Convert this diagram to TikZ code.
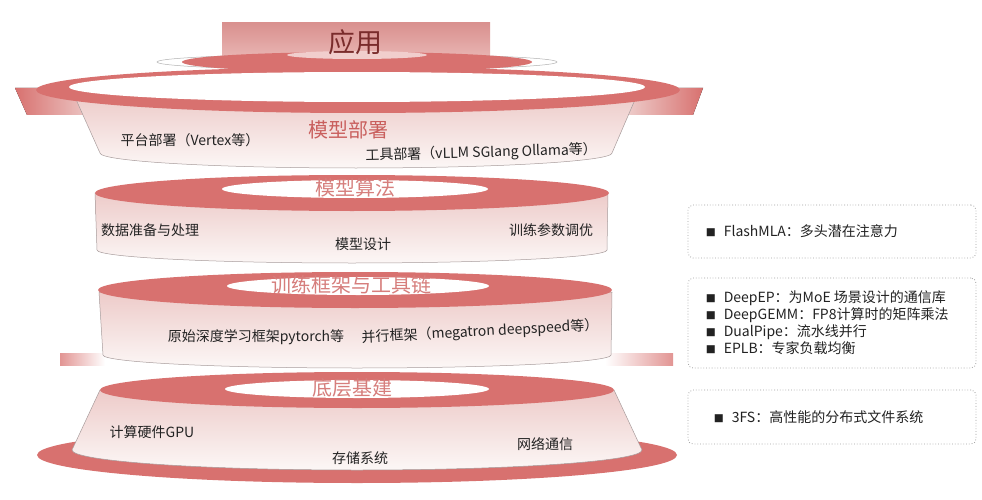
\documentclass[tikz,border=0pt]{standalone}
\usepackage{fontspec}
\setmainfont{Noto Sans CJK SC}
\usepackage{tikz}
\usetikzlibrary{positioning}
\definecolor{ringred}{HTML}{D8716F}
\definecolor{sidepink}{HTML}{EDCBC9}
\definecolor{sidewhite}{HTML}{FCF7F6}
\definecolor{sidegray}{HTML}{A89C9C}
\definecolor{appTop}{HTML}{D9918F}
\definecolor{appBottom}{HTML}{EBB9B7}
\definecolor{appText}{HTML}{7A2C2C}
\definecolor{deployRed}{HTML}{C95F5D}
\definecolor{titlePink}{HTML}{D67E7C}
\definecolor{boxgray}{HTML}{A0A0A0}
\definecolor{labelblack}{HTML}{222222}
\newcommand{\bulletfont}{\fontsize{10}{10}\selectfont}
\tikzstyle{ring} = [fill=ringred]
\tikzstyle{hole} = [fill=white]
\tikzstyle{sidewall} = [draw=sidegray, line width=0.5pt, top color=sidepink, bottom color=sidewhite]
\tikzstyle{layertitle} = [font=\fontsize{20}{22}\selectfont, text=titlePink, inner sep=0pt]
\tikzstyle{layertext} = [font=\fontsize{14}{16}\selectfont, text=labelblack, inner sep=0pt]
\tikzstyle{infobox} = [draw=boxgray, dotted, line width=0.8pt, rounded corners=5pt, minimum width=288pt, inner sep=0pt]
\tikzstyle{boxtext} = [font=\fontsize{14}{17}\selectfont, text=labelblack, align=left, inner sep=0pt]

\begin{document}
\begin{tikzpicture}[x=1pt, y=-1pt]
    \fill[white] (0,0) rectangle (982,500);
    \useasboundingbox (0,0) rectangle (982,500);

    % model deployment (wide bowl)
    \fill[left color=ringred, right color=sidepink] (15,88) -- (92,88) -- (92,115) -- (27,115) -- cycle;
    \fill[left color=sidepink, right color=ringred] (628,88) -- (703,88) -- (693,115) -- (628,115) -- cycle;
    \draw[sidewall] (74,95) -- (100,153) arc[start angle=180, end angle=0, x radius=256, y radius=15] -- (637,95) -- cycle;
    \fill[ring] (358,90) ellipse [x radius=322, y radius=23];
    \fill[hole] (357,87) ellipse [x radius=288, y radius=15];

    % application
    \shade[top color=appTop, bottom color=appBottom] (222,23) rectangle (490,62);
    \draw[gray!60, fill=white, line width=0.5pt] (357,62) ellipse [x radius=200, y radius=8];
    \fill[ring] (357,62) ellipse [x radius=175, y radius=10];
    \fill[appBottom!70!white] (357,55) ellipse [x radius=70, y radius=4];
    \node (appTitle) at (355,42) [font=\fontsize{27}{29}\selectfont, text=appText, inner sep=0pt] {应用};

    \node (deployTitle) at (348,130) [layertitle, text=deployRed] {模型部署};
    \node (platformDeploy) at (190,140) [layertext] {平台部署（Vertex等）};
    \node (toolDeploy) at (597,150) [layertext, anchor=east, rotate=1.5] {工具部署（vLLM SGlang Ollama等）};

    % model algorithm
    \draw[sidewall] (95,193) -- (97,250) arc[start angle=180, end angle=0, x radius=255, y radius=13] -- (608,193) -- cycle;
    \fill[ring] (352,193) ellipse [x radius=257, y radius=18];
    \fill[hole] (355,189) ellipse [x radius=133, y radius=9];
    \node (algoTitle) at (355,188) [layertitle] {模型算法};
    \node (dataPrep) at (150,230) [layertext] {数据准备与处理};
    \node (modelDesign) at (363,244) [layertext] {模型设计};
    \node (paramTune) at (551,230) [layertext] {训练参数调优};

    % training framework
    \fill[left color=ringred!75, right color=white] (60,353) rectangle (105,365);
    \fill[left color=white, right color=ringred!75] (605,353) rectangle (673,365);
    \draw[sidewall] (99,292) -- (103,355) arc[start angle=180, end angle=0, x radius=254, y radius=13] -- (612,292) -- cycle;
    \fill[ring] (355,290) ellipse [x radius=257, y radius=18];
    \fill[hole] (358,286) ellipse [x radius=131, y radius=9];
    \node (frameTitle) at (351,285) [layertitle] {训练框架与工具链};
    \node (rawFrame) at (256,337) [layertext] {原始深度学习框架pytorch等};
    \node (parallelFrame) at (480,332) [layertext, rotate=3] {并行框架（megatron deepspeed等）};

    % infrastructure
    \fill[ring] (357,455) ellipse [x radius=320, y radius=28];
    \draw[sidewall] (100,390) -- (72,450) arc[start angle=180, end angle=0, x radius=285, y radius=20] -- (614,390) -- cycle;
    \fill[ring] (357,390) ellipse [x radius=257, y radius=18];
    \fill[hole] (357,389) ellipse [x radius=132, y radius=9];
    \node (baseTitle) at (352,388) [layertitle] {底层基建};
    \node (gpuHw) at (152,432) [layertext] {计算硬件GPU};
    \node (storage) at (360,458) [layertext] {存储系统};
    \node (network) at (545,444) [layertext] {网络通信};

    % open source boxes
    \node (flashBox) at (832,231.5) [infobox, minimum height=53pt] {};
    \node (flashText) [boxtext, right=18pt of flashBox.west] {{\bulletfont ■}\hspace{8pt}FlashMLA：多头潜在注意力};
    \node (deepBox) at (832,323) [infobox, minimum height=90pt] {};
    \node (deepText) [boxtext, right=18pt of deepBox.west] {{\bulletfont ■}\hspace{8pt}DeepEP：为MoE 场景设计的通信库\\
        {\bulletfont ■}\hspace{8pt}DeepGEMM：FP8计算时的矩阵乘法\\
        {\bulletfont ■}\hspace{8pt}DualPipe：流水线并行\\
        {\bulletfont ■}\hspace{8pt}EPLB：专家负载均衡};
    \node (fsBox) at (832,417) [infobox, minimum height=54pt] {};
    \node (fsText) [boxtext, right=26pt of fsBox.west] {{\bulletfont ■}\hspace{8pt}3FS：高性能的分布式文件系统};
\end{tikzpicture}
\end{document}
